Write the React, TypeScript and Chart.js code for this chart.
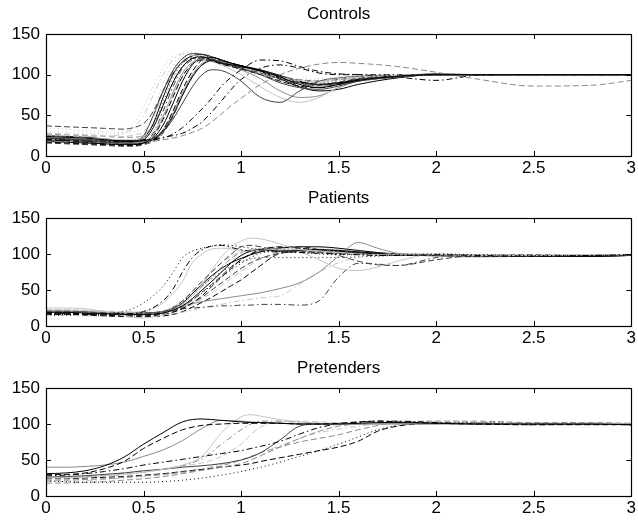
import React, { useEffect, useRef } from "react";
import { Chart, registerables } from "chart.js";
Chart.register(...registerables);

// ---------- x grids ----------
const X_CONTROLS = [0, 0.1, 0.2, 0.3, 0.4, 0.45, 0.5, 0.55, 0.6, 0.65, 0.7, 0.75, 0.8, 0.85, 0.9, 0.95, 1.0, 1.1, 1.2, 1.3, 1.4, 1.5, 1.6, 1.8, 2.0, 2.2, 2.5, 2.8, 3.0];
const X_PATIENTS = [0, 0.1, 0.2, 0.3, 0.4, 0.5, 0.6, 0.65, 0.7, 0.75, 0.8, 0.85, 0.9, 0.95, 1.0, 1.05, 1.1, 1.15, 1.2, 1.3, 1.4, 1.5, 1.6, 1.7, 1.8, 2.0, 2.2, 2.5, 2.8, 3.0];
const X_PRETENDERS = [0, 0.1, 0.2, 0.3, 0.4, 0.5, 0.6, 0.7, 0.8, 0.9, 1.0, 1.05, 1.1, 1.2, 1.3, 1.4, 1.5, 1.6, 1.7, 1.8, 2.0, 2.2, 2.5, 2.8, 3.0];

// ---------- tick labels ----------
const X_TICKS = [0, 0.5, 1, 1.5, 2, 2.5, 3];
const Y_TICKS = [0, 50, 100, 150];

// ---------- Controls ----------
const C01 = [24,23,22,20,18, 18,20,35,62,90, 110,120,122,118,114, 112,110,105,97,88, 84,88,93,98,100, 100,100,100,100];
const C02 = [22,21,19,17,16, 17,25,50,80,105, 120,126,125,120,115, 112,108,100,90,84, 82,86,92,97,100, 100,100,100,100];
const C03 = [20,19,17,15,14, 14,16,24,45,72, 98,113,118,117,113, 110,107,100,92,86, 84,88,93,98,100, 100,100,100,100];
const C04 = [30,29,28,27,30, 40,60,85,108,122, 127,128,124,118,114, 111,108,102,96,92, 93,96,98,99,100, 100,100,100,100];
const C05 = [26,25,24,24,28, 35,50,75,100,118, 125,124,120,116,112, 110,108,103,97,93, 92,95,97,99,100, 100,100,100,100];
const C06 = [37,36,35,34,33, 35,40,55,80,102, 115,120,120,117,114, 111,108,102,95,90, 88,91,95,98,100, 100,100,100,100];
const C07 = [20,20,19,18,18, 18,19,20,22,27, 35,46,58,71,86, 97,106,118,117,110, 104,101,100,97,93, 99,100,100,100];
const C08 = [18,18,17,16,16, 16,17,18,20,22, 25,29,34,42,52, 62,71,88,100,108, 113,115,114,110,103, 95,86,87,93];
const C09 = [22,21,20,19,18, 18,19,22,30,45, 65,85,100,106,105, 100,92,72,66,80, 92,96,98,99,100, 100,100,100,100];
const C10 = [24,23,22,21,20, 20,22,30,50,75, 98,112,118,116,112, 106,100,85,72,66, 72,85,93,98,100, 100,100,100,100];
const C11 = [21,20,19,18,17, 17,18,26,48,78, 102,115,119,117,113, 110,106,95,80,72, 74,84,92,97,100, 100,100,100,100];
const C12 = [25,24,23,21,19, 19,22,40,72,100, 116,123,125,122,118, 114,111,104,95,85, 80,82,88,96,100, 100,100,100,100];
const C13 = [17,16,15,14,13, 13,15,20,32,55, 82,104,118,121,118, 114,111,104,96,90, 88,90,94,98,100, 100,100,100,100];
const C14 = [19,18,17,16,15, 15,17,28,55,85, 108,118,121,119,115, 112,109,102,94,88, 87,90,94,98,100, 100,100,100,100];
const C15 = [28,27,26,25,24, 26,30,48,78,105, 119,124,123,119,115, 112,109,103,96,92, 91,94,96,99,100, 100,100,100,100];
const C16 = [23,22,21,20,19, 18,18,22,32,52, 78,100,114,118,116, 113,110,104,97,90, 86,88,92,97,100, 100,100,100,100];
const C17 = [20,19,18,17,16, 15,16,20,30,50, 75,97,112,117,117, 114,111,105,98,91, 88,90,94,98,100, 100,100,100,100];
const C18 = [16,15,14,13,12, 12,14,18,28,48, 75,98,112,117,116, 113,109,103,97,93, 92,94,96,99,100, 100,100,100,100];
const C19 = [35,33,31,30,29, 30,35,55,88,112, 122,124,122,118,114, 110,106,100,96,94, 95,97,99,100,100, 100,100,100,100];
const C20 = [21,21,20,19,19, 19,20,21,23,25, 28,34,42,54,68, 82,94,108,112,108, 102,100,100,100,100, 100,100,100,100];
const C21 = [27,26,25,24,23, 23,26,38,62,90, 110,120,122,119,116, 113,110,104,98,94, 92,94,97,99,100, 100,100,100,100];
const C22 = [18,17,16,15,14, 14,16,22,38,64, 92,112,121,121,118, 114,111,106,99,92, 88,89,93,98,101, 100,100,100,100];
const C23 = [23,22,21,20,19, 20,24,38,66,96, 114,121,121,118,114, 111,108,102,96,91, 90,92,95,98,100, 100,100,100,100];
const C24 = [22,21,20,19,18, 18,19,22,30,48, 74,98,112,117,115, 111,107,100,92,86, 85,89,94,98,100, 100,100,100,100];

// ---------- Patients ----------
const P01 = [18,18,17,17,17, 20,35,51,75,95, 106,111,112,109,106, 104,104,103,103,102, 101,100,99,98,98, 99,98,97,98,99];
const P02 = [16,16,16,17,20, 32,55,74,95,104, 108,111,113,112,110, 108,106,104,103,102, 100,99,99,98,99, 100,99,98,98,99];
const P03 = [22,22,21,20,19, 20,32,45,62,88, 100,107,108,107,105, 104,105,106,107,106, 104,102,100,99,99, 99,98,98,99,99];
const P04 = [20,20,19,18,17, 17,20,25,35,48, 62,75,88,100,110, 112,110,107,105,104, 104,103,101,100,99, 98,98,97,98,98];
const P05 = [19,19,18,17,16, 16,18,22,28,38, 50,62,75,88,98, 104,106,105,104,105, 106,105,103,101,99, 98,98,97,97,98];
const P06 = [25,25,24,20,14, 11,16,22,30,42, 58,78,96,110,118, 122,121,118,114,104, 92,80,77,82,90, 100,99,98,98,99];
const P07 = [17,17,16,15,14, 14,16,19,24,32, 42,55,68,80,92, 100,106,109,110,108, 106,104,102,100,99, 98,97,97,97,98];
const P08 = [20,20,19,18,17, 17,20,24,28,31, 34,36,38,40,42, 44,46,49,52,60, 75,97,116,108,101, 97,96,97,98,98];
const P09 = [17,17,16,16,16, 17,20,22,24,25, 26,27,28,28,29, 29,30,30,30,29, 35,68,87,86,84, 95,98,98,98,99];
const P10 = [15,15,14,14,14, 14,15,17,19,22, 25,28,30,33,35, 37,39,40,42,58, 75,88,95,100,101, 100,99,98,99,99];
const P11 = [18,18,17,16,15, 15,17,20,25,32, 40,50,60,70,80, 88,94,98,101,103, 102,101,100,99,98, 98,97,97,98,98];
const P12 = [21,21,20,19,18, 18,20,24,32,45, 58,70,80,88,94, 99,103,106,108,110, 110,108,105,102,100, 99,98,97,97,98];
const P13 = [17,17,17,16,16, 17,20,26,34,45, 56,66,75,83,89, 93,95,95,95,95, 95,95,96,97,98, 99,99,98,98,99];
const P14 = [23,23,22,21,20, 19,21,26,35,48, 62,76,88,97,103, 106,107,106,105,104, 103,102,101,100,99, 99,98,98,98,99];
const P15 = [16,16,15,14,13, 13,14,16,20,26, 33,40,48,56,64, 74,84,94,101,104, 104,103,102,100,99, 98,97,97,97,98];
const P16 = [19,19,18,17,16, 16,18,21,27,36, 47,58,70,82,92, 100,105,108,109,110, 106,98,90,85,84, 92,98,99,98,99];
const P17 = [21,21,20,19,18, 18,19,21,25,30, 38,46,56,66,76, 85,93,99,103,106, 107,106,104,102,100, 99,98,98,98,99];
const P18 = [15,15,15,14,14, 15,18,22,28,36, 46,57,68,78,87, 95,101,104,106,107, 106,104,102,100,99, 99,98,97,98,98];
const P19 = [19,19,18,17,16, 16,18,22,30,42, 55,68,82,94,102, 106,107,106,105,104, 103,102,100,99,98, 98,97,97,98,99];

// ---------- Pretenders ----------
const R01 = [31,32,35,42,54, 72,88,103,107,105, 103,102,102,101,100, 100,100,101,102,102, 101,100,100,100,99];
const R02 = [30,30,32,38,48, 66,80,92,98,100, 101,101,101,101,100, 100,101,103,104,103, 101,100,99,99,99];
const R03 = [40,40,41,43,47, 55,64,77,94,105, 104,103,102,101,100, 100,100,100,100,100, 100,101,100,100,99];
const R04 = [25,25,26,28,30, 33,37,43,55,88, 110,113,111,106,103, 101,100,100,101,101, 100,100,100,101,100];
const R05 = [26,26,27,28,30, 33,37,42,52,72, 92,100,104,104,102, 101,100,100,101,102, 101,100,100,101,100];
const R06 = [28,29,31,34,38, 43,47,51,55,59, 63,66,69,76,86, 95,100,102,104,104, 102,100,99,100,100];
const R07 = [26,27,28,30,32, 35,37,40,42,45, 50,54,60,78,97, 100,100,100,101,101, 101,100,100,100,99];
const R08 = [22,22,23,24,26, 28,30,33,36,40, 45,50,56,68,80, 90,97,100,101,101, 101,101,100,101,100];
const R09 = [24,24,25,26,27, 29,31,34,37,40, 43,45,48,53,58, 63,68,76,90,97, 101,101,100,100,100];
const R10 = [21,20,19,19,19, 19,20,22,25,29, 34,37,40,47,55, 63,72,82,92,98, 101,102,101,101,100];
const R11 = [20,20,21,23,25, 27,30,34,38,44, 50,55,60,70,80, 88,93,97,100,102, 103,102,101,101,100];
const R12 = [27,27,28,30,32, 35,38,42,46,55, 72,85,96,103,104, 103,102,101,100,100, 100,100,101,100,99];
const R13 = [18,18,19,20,22, 24,27,31,36,42, 50,55,60,68,75, 80,85,92,98,102, 104,104,102,102,101];

// ---------- styles (kept apart from the data) ----------
const K = "#000000", D = "#404040", M = "#8a8a8a", L = "#c4c4c4";
const SOLID: number[] = [];
const DASH = [6, 3];
const DASHDOT = [6, 3, 1.5, 3];
const DOT = [1, 3];

const CONTROLS_SERIES = [C01, C02, C03, C04, C05, C06, C07, C08, C09, C10, C11, C12, C13, C14, C15, C16, C17, C18, C19, C20, C21, C22, C23, C24];
const CONTROLS_STYLE: [string, number[]][] = [
  [K, SOLID], [D, SOLID], [K, DASH], [L, DOT], [L, DASHDOT], [D, DASH], [K, DASHDOT], [M, DASH],
  [D, SOLID], [L, SOLID], [M, SOLID], [K, SOLID], [K, DASH], [D, DASHDOT], [L, DASH], [M, SOLID],
  [K, SOLID], [D, DASH], [L, DOT], [K, DASHDOT], [M, DASH], [K, SOLID], [D, DOT], [L, DASH],
];
const PATIENTS_SERIES = [P01, P02, P03, P04, P05, P06, P07, P08, P09, P10, P11, P12, P13, P14, P15, P16, P17, P18, P19];
const PATIENTS_STYLE: [string, number[]][] = [
  [K, DASHDOT], [K, DOT], [L, SOLID], [D, DASH], [K, SOLID], [L, SOLID], [K, DASH], [M, SOLID],
  [D, DASHDOT], [L, DASHDOT], [D, DASH], [K, SOLID], [K, DOT], [L, DASH], [K, DASH], [D, DASH],
  [L, DASH], [K, DOT], [M, DASH],
];
const PRETENDERS_SERIES = [R01, R02, R03, R04, R05, R06, R07, R08, R09, R10, R11, R12, R13];
const PRETENDERS_STYLE: [string, number[]][] = [
  [K, SOLID], [K, DASH], [M, SOLID], [L, SOLID], [M, DASHDOT], [K, DASHDOT], [D, SOLID],
  [M, DASH], [K, DASH], [K, DOT], [L, DASHDOT], [L, DASH], [M, DASH],
];

const FONT = "'Liberation Sans', Arial, Helvetica, sans-serif";
const FONT_SIZE = 17;

const boxPlugin = {
  id: "matlabBox",
  afterDatasetsDraw(chart: any) {
    const { ctx, chartArea: a, scales } = chart;
    const len = 5;
    ctx.save();
    ctx.strokeStyle = "#000";
    ctx.lineWidth = 1;
    ctx.setLineDash([]);
    ctx.beginPath();
    for (const v of X_TICKS) {
      const px = Math.round(scales.x.getPixelForValue(v)) + 0.5;
      ctx.moveTo(px, a.bottom);
      ctx.lineTo(px, a.bottom - len);
      ctx.moveTo(px, a.top);
      ctx.lineTo(px, a.top + len);
    }
    for (const v of Y_TICKS) {
      const py = Math.round(scales.y.getPixelForValue(v)) + 0.5;
      ctx.moveTo(a.left, py);
      ctx.lineTo(a.left + len, py);
      ctx.moveTo(a.right, py);
      ctx.lineTo(a.right - len, py);
    }
    ctx.stroke();
    ctx.lineWidth = 1.2;
    ctx.strokeRect(Math.round(a.left) + 0.5, Math.round(a.top) + 0.5, Math.round(a.right - a.left), Math.round(a.bottom - a.top));
    ctx.restore();
  },
};

type PanelProps = {
  title: string;
  xs: number[];
  series: number[][];
  styles: [string, number[]][];
  top: number;
  height: number;
  plotTop: number;
  plotBottom: number;
};

function Panel({ title, xs, series, styles, top, height, plotTop, plotBottom }: PanelProps) {
  const ref = useRef<HTMLCanvasElement | null>(null);
  useEffect(() => {
    if (!ref.current) return;
    const titleLine = FONT_SIZE * 1.2;
    const titleCenter = plotTop - 20;
    const padTop = titleCenter - titleLine / 2;
    const padBottom = plotTop - padTop - titleLine;
    const xAxisHeight = height - plotBottom;
    const chart = new Chart(ref.current, {
      type: "line",
      data: {
        datasets: series.map((ys, i) => ({
          data: xs.map((x, j) => ({ x, y: ys[j] })),
          borderColor: styles[i][0],
          borderDash: styles[i][1],
          borderWidth: 1,
          pointRadius: 0,
          fill: false,
          cubicInterpolationMode: "monotone" as const,
        })),
      },
      options: {
        responsive: false,
        animation: false,
        devicePixelRatio: 1,
        events: [],
        layout: { padding: { left: 0, right: 6, top: 0, bottom: 0 } },
        plugins: {
          legend: { display: false },
          tooltip: { enabled: false },
          title: {
            display: true,
            fullSize: false,
            text: title,
            color: "#000",
            font: { family: FONT, size: FONT_SIZE, weight: "normal" },
            padding: { top: padTop, bottom: padBottom },
          },
        },
        scales: {
          x: {
            type: "linear",
            min: 0,
            max: 3,
            afterBuildTicks: (s: any) => { s.ticks = X_TICKS.map((v) => ({ value: v })); },
            ticks: {
              color: "#000",
              font: { family: FONT, size: FONT_SIZE },
              padding: 2,
              maxRotation: 0,
              autoSkip: false,
              callback: (v: any) => String(v),
            },
            grid: { display: false, drawTicks: false },
            border: { display: false },
            afterFit: (s: any) => { s.height = xAxisHeight; },
          },
          y: {
            type: "linear",
            min: 0,
            max: 150,
            afterBuildTicks: (s: any) => { s.ticks = Y_TICKS.map((v) => ({ value: v })); },
            ticks: { color: "#000", font: { family: FONT, size: FONT_SIZE }, padding: 6, callback: (v: any) => String(v) },
            grid: { display: false, drawTicks: false },
            border: { display: false },
            afterFit: (s: any) => { s.width = 46; },
          },
        },
      },
      plugins: [boxPlugin],
    } as any);
    return () => chart.destroy();
  }, []);
  return (
    <canvas
      ref={ref}
      width={638}
      height={height}
      style={{ position: "absolute", left: 0, top, width: 638, height }}
    />
  );
}

export default function App() {
  return (
    <div style={{ position: "absolute", left: 0, top: 0, width: 638, height: 525, background: "#fff" }}>
      <Panel title="Controls" xs={X_CONTROLS} series={CONTROLS_SERIES} styles={CONTROLS_STYLE} top={0} height={180} plotTop={34} plotBottom={156} />
      <Panel title="Patients" xs={X_PATIENTS} series={PATIENTS_SERIES} styles={PATIENTS_STYLE} top={180} height={170} plotTop={38} plotBottom={146} />
      <Panel title="Pretenders" xs={X_PRETENDERS} series={PRETENDERS_SERIES} styles={PRETENDERS_STYLE} top={350} height={175} plotTop={38} plotBottom={146} />
    </div>
  );
}
